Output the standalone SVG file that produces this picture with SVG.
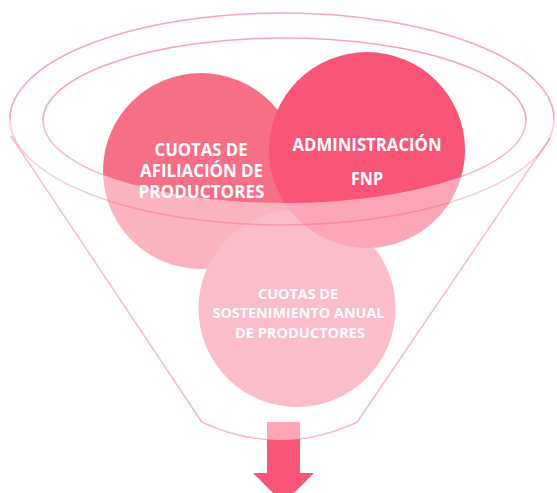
<svg xmlns="http://www.w3.org/2000/svg" width="557" height="493" viewBox="0 0 557 493">
  <style>
    .rim { fill: none; stroke: #F9A5B5; stroke-width: 1.6; }
    .lbl { font-family: "Open Sans", "Liberation Sans", sans-serif; font-weight: bold; fill: #FFFFFF; text-anchor: middle; }
    .big { font-size: 17px; }
    .small { font-size: 15px; }
  </style>
  <rect width="557" height="493" fill="#FFFFFF"/>
  <g id="funnel">
    <path class="rim" d="M 10,119 A 272 106 0 0 1 554,119"/>
    <ellipse class="rim" cx="284.5" cy="120.5" rx="241.5" ry="82.5"/>
    <path class="rim" d="M 11,136 L 202,422 Q 280,458 357,422 L 550,138"/>
  </g>
  <g id="connectors">
    <path id="arrow" d="M 267,422 L 300,422 L 300,473 L 314,473 L 283.5,503.5 L 253,473 L 267,473 Z" fill="#F95578"/>
  </g>
  <g id="node-afiliacion">
    <circle cx="201" cy="171" r="98" fill="#F76E87"/>
  </g>
  <g id="node-sostenimiento">
    <circle cx="297" cy="308.5" r="98.5" fill="#F78099"/>
  </g>
  <g id="node-administracion">
    <circle cx="367" cy="150" r="98" fill="#F95578"/>
  </g>
  <path id="funnel-front" d="M 43,120.5 A 241.5 82.5 0 0 0 526,120.5 L 549,140 L 357,422 Q 280,458 202,422 L 12,138 Z" fill="#FFFFFF" fill-opacity="0.48"/>
  <path id="funnel-rim-front" d="M 10,119 A 272 106 0 0 0 554,119" fill="none" stroke="#F23F63" stroke-opacity="0.28" stroke-width="1.6"/>
  <g id="labels">
    <text class="lbl big" x="201" y="156" textLength="93" lengthAdjust="spacingAndGlyphs">CUOTAS DE</text>
    <text class="lbl big" x="201.5" y="177" textLength="123" lengthAdjust="spacingAndGlyphs">AFILIACIÓN DE</text>
    <text class="lbl big" x="201.5" y="198" textLength="126" lengthAdjust="spacingAndGlyphs">PRODUCTORES</text>
    <text class="lbl big" x="367" y="151" textLength="149" lengthAdjust="spacingAndGlyphs">ADMINISTRACIÓN</text>
    <text class="lbl big" x="367" y="185" textLength="32" lengthAdjust="spacingAndGlyphs">FNP</text>
    <text class="lbl small" x="298" y="299" textLength="80" lengthAdjust="spacingAndGlyphs">CUOTAS DE</text>
    <text class="lbl small" x="298.5" y="318" textLength="172" lengthAdjust="spacingAndGlyphs">SOSTENIMIENTO ANUAL</text>
    <text class="lbl small" x="300" y="338" textLength="130" lengthAdjust="spacingAndGlyphs">DE PRODUCTORES</text>
  </g>
</svg>
